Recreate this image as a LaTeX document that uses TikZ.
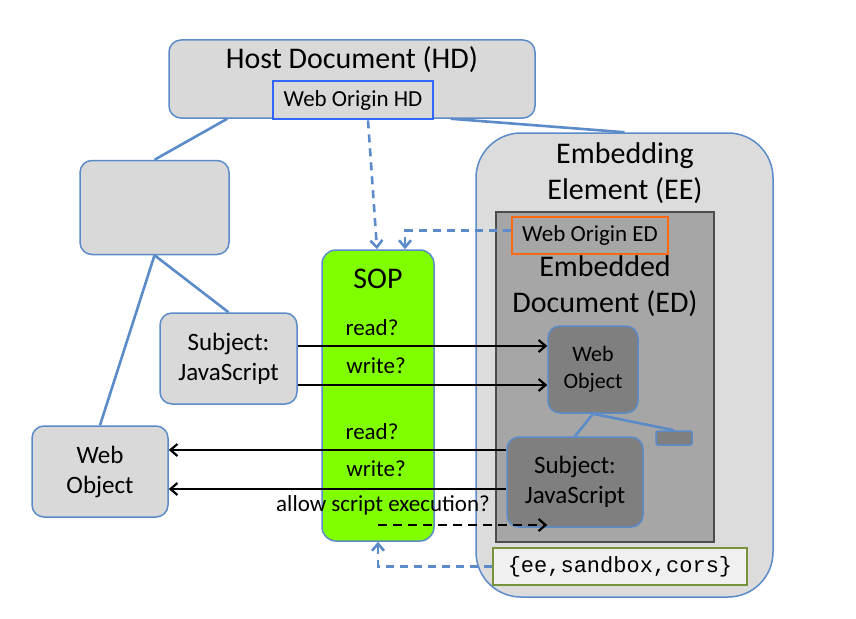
\documentclass[tikz,border=0pt]{standalone}
\usepackage{fontspec}
\setmainfont{Carlito}
\setmonofont{Liberation Mono}
\usetikzlibrary{arrows.meta,positioning}

\definecolor{boxgray}{HTML}{D9D9D9}
\definecolor{eegray}{HTML}{DCDCDC}
\definecolor{edgray}{HTML}{A6A6A6}
\definecolor{darkbox}{HTML}{7F7F7F}
\definecolor{linkblue}{HTML}{5B8BC9}
\definecolor{originblue}{HTML}{3366FF}
\definecolor{originorange}{HTML}{FF6A10}
\definecolor{sopgreen}{HTML}{80FF00}
\definecolor{flaggreen}{HTML}{77933C}

\begin{document}
\begin{tikzpicture}[x=1pt,y=-1pt]
		\tikzset{box/.style={draw=linkblue,line width=1.5pt,fill=boxgray,rounded corners=12pt,align=center,inner sep=0pt}}
		\tikzset{darkrbox/.style={box,fill=darkbox}}
		\tikzset{origin/.style={draw,line width=2.8pt,inner sep=0pt,font=\fontsize{23}{27}\selectfont}}
		\tikzset{link/.style={draw=linkblue,line width=2.6pt}}
		\tikzset{policy/.style={link,dashed,dash pattern=on 8pt off 6pt,-{Straight Barb[length=7pt,width=12pt]}}}
		\tikzset{flow/.style={draw=black,line width=2.2pt,-{Straight Barb[length=7pt,width=12pt]}}}
		\tikzset{big/.style={font=\fontsize{30}{36}\selectfont,align=center}}
		\tikzset{mid/.style={font=\fontsize{25}{30}\selectfont}}
		\tikzset{small/.style={font=\fontsize{23}{27}\selectfont}}
		\useasboundingbox (0,0) rectangle (856,618);
		% host document side
		\node[box,minimum width=366pt,minimum height=78pt] (hd) at (352,79) {};
		\node[big] (hdtitle) at (352,60) {Host Document (HD)};
		\node[origin,draw=originblue,fill=boxgray,minimum width=160pt,minimum height=38pt] (hdorigin) at (353,100) {Web Origin HD};
		\node[box,minimum width=149pt,minimum height=94pt] (blank) at (154.5,207.5) {};
		\node[box,mid,minimum width=137pt,minimum height=91pt] (subj) at (228.5,358.5) {Subject:\\JavaScript};
		\node[box,mid,minimum width=136pt,minimum height=91pt] (wobj) at (100,471.5) {Web\\Object};
		% embedding element side
		\node[box,fill=eegray,rounded corners=45pt,minimum width=297pt,minimum height=464pt] (ee) at (624.5,365) {};
		\node[big] (eetitle) at (625,173) {Embedding\\Element (EE)};
		\node[draw=black!70,line width=1.4pt,fill=edgray,minimum width=218pt,minimum height=330pt] (ed) at (605,377) {};
		\node[origin,draw=originorange,fill=edgray,minimum width=156pt,minimum height=37pt] (edorigin) at (590,235.5) {Web Origin ED};
		\node[big] (edtitle) at (605,286) {Embedded\\Document (ED)};
		\node[darkrbox,font=\fontsize{22}{27}\selectfont,minimum width=90pt,minimum height=87pt] (innerobj) at (593,369.5) {Web\\Object};
		\node[darkrbox,rounded corners=2pt,minimum width=36pt,minimum height=14pt] (tiny) at (674,438) {};
		\node[darkrbox,mid,minimum width=136pt,minimum height=90pt] (innersubj) at (575,482) {Subject:\\JavaScript};
		\node[draw=flaggreen,line width=2.8pt,fill=black!6,minimum width=254pt,minimum height=37pt,inner sep=0pt,font=\ttfamily\fontsize{22}{26}\selectfont] (flags) at (620,566.5) {\{ee,sandbox,cors\}};
		% same origin policy
		\node[draw=linkblue,line width=1.5pt,fill=sopgreen,rounded corners=14pt,minimum width=112pt,minimum height=291pt] (sop) at (378,395.5) {};
		\node[big] (soptitle) at (378,279) {SOP};
		\node[small] (read1) at (372,328) {read?};
		\node[small] (write1) at (376,366) {write?};
		\node[small] (read2) at (372,432) {read?};
		\node[small] (write2) at (376,469) {write?};
		\node[small] (exec) at (383,505) {allow script execution?};
		\coordinate (execstart) at (378,525);
		% tree lines
		\draw[link] ([xshift=59pt]hd.south west) -- (blank.north);
		\draw[link] ([xshift=-85pt]hd.south east) -- (ee.north);
		\draw[link] (blank.south) -- (subj.north);
		\draw[link] (blank.south) -- (wobj.north);
		\draw[link] (innerobj.south) -- (innersubj.north);
		\draw[link] (innerobj.south) -- (tiny.north);
		% origins into the policy
		\draw[policy] ([xshift=15pt]hdorigin.south) -- ([xshift=-1pt]sop.north);
		\draw[policy] ([yshift=5pt]edorigin.west) -| ([xshift=27pt]sop.north);
		\draw[policy] (flags.west) -| (sop.south);
		% accesses
		\draw[flow] ([yshift=12.5pt]subj.east) -- ([yshift=12.5pt]subj.east -| innerobj.west);
		\draw[flow] ([yshift=-26.5pt]subj.east) -- ([yshift=-26.5pt]subj.east -| innerobj.west);
		\draw[flow] ([yshift=32pt]innersubj.west) -- ([yshift=32pt]innersubj.west -| wobj.east);
		\draw[flow] ([yshift=-7pt]innersubj.west) -- ([yshift=-7pt]innersubj.west -| wobj.east);
		\draw[flow,dashed,dash pattern=on 9pt off 6pt] (execstart) -- (execstart -| innerobj.west);
	\end{tikzpicture}
\end{document}
